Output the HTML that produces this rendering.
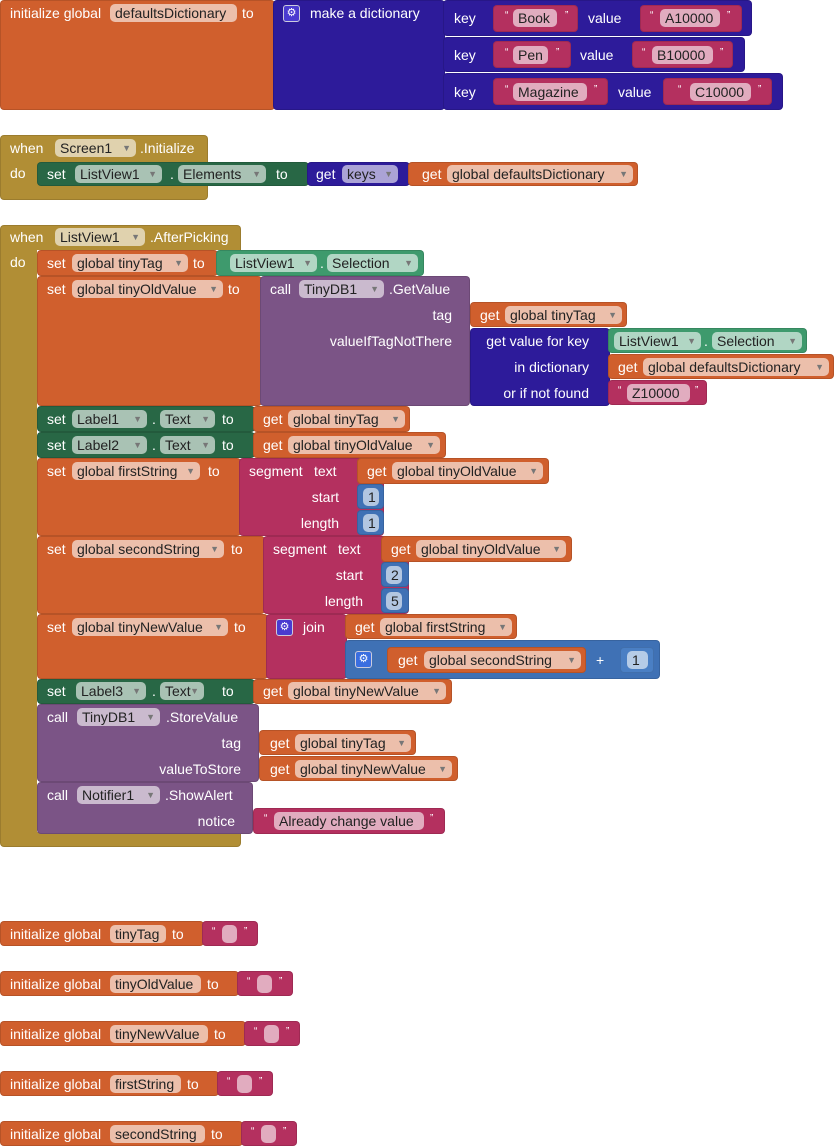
<!DOCTYPE html>
<html><head><meta charset="utf-8">
<style>
body{margin:0;width:835px;height:1147px;background:#fff;position:relative;overflow:hidden;font-family:"Liberation Sans",sans-serif}
.b{position:absolute;border-radius:4px;box-shadow:inset 0 0 0 1px rgba(0,0,0,.12)}
.o{background:#D05F2D}.g{background:#B18E35}.gr{background:#286745}.pu{background:#7B5486}.in{background:#2D1B9A}.m{background:#B4305F}.bl{background:#3F71B5}
.t{position:absolute;color:#fff;font-size:14px;line-height:18px;height:18px;white-space:nowrap}
.r{text-align:right}
.p{position:absolute;background:rgba(255,255,255,.6);color:#222;border-radius:5px;font-size:14px;line-height:18px;height:18px;padding-left:5px;box-sizing:border-box;white-space:nowrap;overflow:hidden}
.p i{font-style:normal;font-size:9px;color:#777;position:absolute;right:5px;top:0}
.gear{position:absolute;width:15px;height:15px;border:1px solid #ccd;border-radius:3px;background:#4a3bd0;color:#fff;font-size:11px;line-height:15px;text-align:center}
.q{position:absolute;color:#fff;font-size:10px;line-height:12px}
</style></head><body>

<!-- Block 1 -->
<div class="b o" style="left:0;top:0;width:275px;height:110px"></div>
<div class="t" style="left:10px;top:4px">initialize global</div>
<div class="p" style="left:110px;top:4px;width:127px">defaultsDictionary</div>
<div class="t" style="left:242px;top:4px">to</div>
<div class="b in" style="left:273px;top:0;width:172px;height:110px"></div>
<div class="gear" style="left:283px;top:5px">⚙</div>
<div class="t" style="left:310px;top:4px">make a dictionary</div>

<div class="b in" style="left:443px;top:0;width:309px;height:36px"></div>
<div class="t" style="left:454px;top:9px">key</div>
<div class="b m" style="left:493px;top:5px;width:85px;height:27px"></div>
<div class="q" style="left:505px;top:10px">“</div><div class="p" style="left:513px;top:9px;width:44px">Book</div><div class="q" style="left:565px;top:10px">”</div>
<div class="t" style="left:588px;top:9px">value</div>
<div class="b m" style="left:640px;top:5px;width:102px;height:27px"></div>
<div class="q" style="left:650px;top:10px">“</div><div class="p" style="left:660px;top:9px;width:60px">A10000</div><div class="q" style="left:727px;top:10px">”</div>

<div class="b in" style="left:443px;top:37px;width:302px;height:35px"></div>
<div class="t" style="left:454px;top:46px">key</div>
<div class="b m" style="left:493px;top:41px;width:78px;height:27px"></div>
<div class="q" style="left:505px;top:47px">“</div><div class="p" style="left:513px;top:46px;width:35px">Pen</div><div class="q" style="left:556px;top:47px">”</div>
<div class="t" style="left:580px;top:46px">value</div>
<div class="b m" style="left:632px;top:41px;width:101px;height:27px"></div>
<div class="q" style="left:642px;top:47px">“</div><div class="p" style="left:652px;top:46px;width:61px">B10000</div><div class="q" style="left:720px;top:47px">”</div>

<div class="b in" style="left:443px;top:73px;width:340px;height:37px"></div>
<div class="t" style="left:454px;top:83px">key</div>
<div class="b m" style="left:493px;top:78px;width:115px;height:27px"></div>
<div class="q" style="left:505px;top:84px">“</div><div class="p" style="left:513px;top:83px;width:74px">Magazine</div><div class="q" style="left:594px;top:84px">”</div>
<div class="t" style="left:618px;top:83px">value</div>
<div class="b m" style="left:663px;top:78px;width:109px;height:27px"></div>
<div class="q" style="left:678px;top:84px">“</div><div class="p" style="left:690px;top:83px;width:61px">C10000</div><div class="q" style="left:758px;top:84px">”</div>

<!-- Block 2 -->
<div class="b g" style="left:0;top:135px;width:208px;height:65px"></div>
<div class="t" style="left:10px;top:139px">when</div>
<div class="p" style="left:55px;top:139px;width:81px">Screen1<i>▼</i></div>
<div class="t" style="left:140px;top:139px">.Initialize</div>
<div class="t" style="left:10px;top:164px">do</div>
<div class="b gr" style="left:37px;top:162px;width:272px;height:24px"></div>
<div class="t" style="left:47px;top:165px">set</div>
<div class="p" style="left:75px;top:165px;width:87px">ListView1<i>▼</i></div>
<div class="t" style="left:170px;top:165px">.</div>
<div class="p" style="left:178px;top:165px;width:88px">Elements<i>▼</i></div>
<div class="t" style="left:276px;top:165px">to</div>
<div class="b in" style="left:307px;top:162px;width:103px;height:24px"></div>
<div class="t" style="left:316px;top:165px">get</div>
<div class="p" style="left:342px;top:165px;width:56px">keys<i>▼</i></div>
<div class="b o" style="left:408px;top:162px;width:230px;height:24px"></div>
<div class="t" style="left:422px;top:165px">get</div>
<div class="p" style="left:447px;top:165px;width:186px">global defaultsDictionary<i>▼</i></div>

<!-- Block 3 -->
<div class="b g" style="left:0;top:225px;width:241px;height:622px"></div>
<div class="t" style="left:10px;top:228px">when</div>
<div class="p" style="left:55px;top:228px;width:90px">ListView1<i>▼</i></div>
<div class="t" style="left:150px;top:228px">.AfterPicking</div>
<div class="t" style="left:10px;top:253px">do</div>
<div style="position:absolute;left:37px;top:250px;width:204px;height:582px;background:#fff"></div>

<!-- row1 -->
<div class="b o" style="left:37px;top:250px;width:181px;height:26px"></div>
<div class="t" style="left:47px;top:254px">set</div>
<div class="p" style="left:72px;top:254px;width:116px">global tinyTag<i>▼</i></div>
<div class="t" style="left:193px;top:254px">to</div>
<div class="b gr" style="left:216px;top:250px;width:208px;height:26px;background:#3E9A6D"></div>
<div class="p" style="left:230px;top:254px;width:87px">ListView1<i>▼</i></div>
<div class="t" style="left:320px;top:254px">.</div>
<div class="p" style="left:327px;top:254px;width:91px">Selection<i>▼</i></div>

<!-- row2 -->
<div class="b o" style="left:37px;top:276px;width:225px;height:130px"></div>
<div class="t" style="left:47px;top:280px">set</div>
<div class="p" style="left:72px;top:280px;width:151px">global tinyOldValue<i>▼</i></div>
<div class="t" style="left:228px;top:280px">to</div>
<div class="b pu" style="left:260px;top:276px;width:210px;height:130px"></div>
<div class="t" style="left:270px;top:280px">call</div>
<div class="p" style="left:299px;top:280px;width:85px">TinyDB1<i>▼</i></div>
<div class="t" style="left:389px;top:280px">.GetValue</div>
<div class="t r" style="left:300px;width:152px;top:306px">tag</div>
<div class="t r" style="left:300px;width:152px;top:332px">valueIfTagNotThere</div>
<div class="b o" style="left:470px;top:302px;width:157px;height:25px"></div>
<div class="t" style="left:480px;top:306px">get</div>
<div class="p" style="left:505px;top:306px;width:117px">global tinyTag<i>▼</i></div>
<div class="b in" style="left:470px;top:328px;width:140px;height:78px"></div>
<div class="t r" style="left:470px;width:119px;top:332px">get value for key</div>
<div class="t r" style="left:470px;width:119px;top:358px">in dictionary</div>
<div class="t r" style="left:470px;width:119px;top:384px">or if not found</div>
<div class="b" style="left:608px;top:328px;width:199px;height:25px;background:#3E9A6D"></div>
<div class="p" style="left:614px;top:332px;width:87px">ListView1<i>▼</i></div>
<div class="t" style="left:704px;top:332px">.</div>
<div class="p" style="left:712px;top:332px;width:90px">Selection<i>▼</i></div>
<div class="b o" style="left:608px;top:354px;width:226px;height:25px"></div>
<div class="t" style="left:618px;top:358px">get</div>
<div class="p" style="left:643px;top:358px;width:186px">global defaultsDictionary<i>▼</i></div>
<div class="b m" style="left:608px;top:380px;width:99px;height:25px"></div>
<div class="q" style="left:618px;top:385px">“</div><div class="p" style="left:627px;top:384px;width:63px">Z10000</div><div class="q" style="left:695px;top:385px">”</div>

<!-- row3 -->
<div class="b gr" style="left:37px;top:406px;width:218px;height:26px"></div>
<div class="t" style="left:47px;top:410px">set</div>
<div class="p" style="left:72px;top:410px;width:75px">Label1<i>▼</i></div>
<div class="t" style="left:152px;top:410px">.</div>
<div class="p" style="left:160px;top:410px;width:55px">Text<i>▼</i></div>
<div class="t" style="left:222px;top:410px">to</div>
<div class="b o" style="left:253px;top:406px;width:157px;height:26px"></div>
<div class="t" style="left:263px;top:410px">get</div>
<div class="p" style="left:288px;top:410px;width:117px">global tinyTag<i>▼</i></div>

<!-- row4 -->
<div class="b gr" style="left:37px;top:432px;width:218px;height:26px"></div>
<div class="t" style="left:47px;top:436px">set</div>
<div class="p" style="left:72px;top:436px;width:75px">Label2<i>▼</i></div>
<div class="t" style="left:152px;top:436px">.</div>
<div class="p" style="left:160px;top:436px;width:55px">Text<i>▼</i></div>
<div class="t" style="left:222px;top:436px">to</div>
<div class="b o" style="left:253px;top:432px;width:193px;height:26px"></div>
<div class="t" style="left:263px;top:436px">get</div>
<div class="p" style="left:288px;top:436px;width:152px">global tinyOldValue<i>▼</i></div>

<!-- row5 -->
<div class="b o" style="left:37px;top:458px;width:204px;height:78px"></div>
<div class="t" style="left:47px;top:462px">set</div>
<div class="p" style="left:72px;top:462px;width:128px">global firstString<i>▼</i></div>
<div class="t" style="left:208px;top:462px">to</div>
<div class="b m" style="left:239px;top:458px;width:145px;height:78px"></div>
<div class="t" style="left:249px;top:462px">segment</div>
<div class="t" style="left:314px;top:462px">text</div>
<div class="t r" style="left:239px;width:100px;top:488px">start</div>
<div class="t r" style="left:239px;width:100px;top:514px">length</div>
<div class="b o" style="left:357px;top:458px;width:192px;height:26px"></div>
<div class="t" style="left:367px;top:462px">get</div>
<div class="p" style="left:392px;top:462px;width:151px">global tinyOldValue<i>▼</i></div>
<div class="b bl" style="left:357px;top:484px;width:27px;height:25px"></div>
<div class="p" style="left:363px;top:488px;width:16px">1</div>
<div class="b bl" style="left:357px;top:510px;width:27px;height:25px"></div>
<div class="p" style="left:363px;top:514px;width:16px">1</div>

<!-- row6 -->
<div class="b o" style="left:37px;top:536px;width:228px;height:78px"></div>
<div class="t" style="left:47px;top:540px">set</div>
<div class="p" style="left:72px;top:540px;width:152px">global secondString<i>▼</i></div>
<div class="t" style="left:231px;top:540px">to</div>
<div class="b m" style="left:263px;top:536px;width:146px;height:78px"></div>
<div class="t" style="left:273px;top:540px">segment</div>
<div class="t" style="left:338px;top:540px">text</div>
<div class="t r" style="left:263px;width:100px;top:566px">start</div>
<div class="t r" style="left:263px;width:100px;top:592px">length</div>
<div class="b o" style="left:381px;top:536px;width:191px;height:26px"></div>
<div class="t" style="left:391px;top:540px">get</div>
<div class="p" style="left:416px;top:540px;width:150px">global tinyOldValue<i>▼</i></div>
<div class="b bl" style="left:381px;top:562px;width:28px;height:25px"></div>
<div class="p" style="left:386px;top:566px;width:16px">2</div>
<div class="b bl" style="left:381px;top:588px;width:28px;height:25px"></div>
<div class="p" style="left:386px;top:592px;width:16px">5</div>

<!-- row7 -->
<div class="b o" style="left:37px;top:614px;width:231px;height:65px"></div>
<div class="t" style="left:47px;top:618px">set</div>
<div class="p" style="left:72px;top:618px;width:156px">global tinyNewValue<i>▼</i></div>
<div class="t" style="left:234px;top:618px">to</div>
<div class="b m" style="left:266px;top:614px;width:81px;height:65px"></div>
<div class="gear" style="left:276px;top:619px">⚙</div>
<div class="t" style="left:303px;top:618px">join</div>
<div class="b o" style="left:345px;top:614px;width:172px;height:25px"></div>
<div class="t" style="left:355px;top:618px">get</div>
<div class="p" style="left:380px;top:618px;width:132px">global firstString<i>▼</i></div>
<div class="b bl" style="left:345px;top:640px;width:315px;height:39px"></div>
<div class="gear" style="left:355px;top:651px;background:#3a6ee0">⚙</div>
<div class="b o" style="left:387px;top:647px;width:199px;height:26px"></div>
<div class="t" style="left:398px;top:651px">get</div>
<div class="p" style="left:424px;top:651px;width:157px">global secondString<i>▼</i></div>
<div class="t" style="left:596px;top:651px">+</div>
<div class="b bl" style="left:620px;top:647px;width:34px;height:26px;background:#4a7fc4"></div>
<div class="p" style="left:627px;top:651px;width:21px">1</div>

<!-- row8 -->
<div class="b gr" style="left:37px;top:679px;width:218px;height:25px"></div>
<div class="t" style="left:47px;top:682px">set</div>
<div class="p" style="left:76px;top:682px;width:70px">Label3<i>▼</i></div>
<div class="t" style="left:152px;top:682px">.</div>
<div class="p" style="left:160px;top:682px;width:44px">Text<i>▼</i></div>
<div class="t" style="left:222px;top:682px">to</div>
<div class="b o" style="left:253px;top:679px;width:199px;height:25px"></div>
<div class="t" style="left:263px;top:682px">get</div>
<div class="p" style="left:288px;top:682px;width:158px">global tinyNewValue<i>▼</i></div>

<!-- row9 -->
<div class="b pu" style="left:37px;top:704px;width:222px;height:78px"></div>
<div class="t" style="left:47px;top:708px">call</div>
<div class="p" style="left:77px;top:708px;width:83px">TinyDB1<i>▼</i></div>
<div class="t" style="left:166px;top:708px">.StoreValue</div>
<div class="t r" style="left:100px;width:141px;top:734px">tag</div>
<div class="t r" style="left:100px;width:141px;top:760px">valueToStore</div>
<div class="b o" style="left:259px;top:730px;width:157px;height:25px"></div>
<div class="t" style="left:270px;top:734px">get</div>
<div class="p" style="left:295px;top:734px;width:116px">global tinyTag<i>▼</i></div>
<div class="b o" style="left:259px;top:756px;width:199px;height:25px"></div>
<div class="t" style="left:270px;top:760px">get</div>
<div class="p" style="left:295px;top:760px;width:157px">global tinyNewValue<i>▼</i></div>

<!-- row10 -->
<div class="b pu" style="left:37px;top:782px;width:216px;height:52px"></div>
<div class="t" style="left:47px;top:786px">call</div>
<div class="p" style="left:77px;top:786px;width:83px">Notifier1<i>▼</i></div>
<div class="t" style="left:165px;top:786px">.ShowAlert</div>
<div class="t r" style="left:100px;width:135px;top:812px">notice</div>
<div class="b m" style="left:253px;top:808px;width:192px;height:26px"></div>
<div class="q" style="left:264px;top:813px">“</div><div class="p" style="left:274px;top:812px;width:150px">Already change value</div><div class="q" style="left:430px;top:813px">”</div>

<!-- bottom inits -->
<div class="b o" style="left:0;top:921px;width:204px;height:25px"></div>
<div class="t" style="left:10px;top:925px">initialize global</div>
<div class="p" style="left:110px;top:925px;width:56px">tinyTag</div>
<div class="t" style="left:172px;top:925px">to</div>
<div class="b m" style="left:202px;top:921px;width:56px;height:25px"></div>
<div class="q" style="left:212px;top:926px">“</div><div class="p" style="left:222px;top:925px;width:15px"></div><div class="q" style="left:244px;top:926px">”</div>

<div class="b o" style="left:0;top:971px;width:239px;height:25px"></div>
<div class="t" style="left:10px;top:975px">initialize global</div>
<div class="p" style="left:110px;top:975px;width:91px">tinyOldValue</div>
<div class="t" style="left:207px;top:975px">to</div>
<div class="b m" style="left:237px;top:971px;width:56px;height:25px"></div>
<div class="q" style="left:247px;top:976px">“</div><div class="p" style="left:257px;top:975px;width:15px"></div><div class="q" style="left:279px;top:976px">”</div>

<div class="b o" style="left:0;top:1021px;width:246px;height:25px"></div>
<div class="t" style="left:10px;top:1025px">initialize global</div>
<div class="p" style="left:110px;top:1025px;width:98px">tinyNewValue</div>
<div class="t" style="left:214px;top:1025px">to</div>
<div class="b m" style="left:244px;top:1021px;width:56px;height:25px"></div>
<div class="q" style="left:254px;top:1026px">“</div><div class="p" style="left:264px;top:1025px;width:15px"></div><div class="q" style="left:286px;top:1026px">”</div>

<div class="b o" style="left:0;top:1071px;width:219px;height:25px"></div>
<div class="t" style="left:10px;top:1075px">initialize global</div>
<div class="p" style="left:110px;top:1075px;width:71px">firstString</div>
<div class="t" style="left:187px;top:1075px">to</div>
<div class="b m" style="left:217px;top:1071px;width:56px;height:25px"></div>
<div class="q" style="left:227px;top:1076px">“</div><div class="p" style="left:237px;top:1075px;width:15px"></div><div class="q" style="left:259px;top:1076px">”</div>

<div class="b o" style="left:0;top:1121px;width:243px;height:25px"></div>
<div class="t" style="left:10px;top:1125px">initialize global</div>
<div class="p" style="left:110px;top:1125px;width:95px">secondString</div>
<div class="t" style="left:211px;top:1125px">to</div>
<div class="b m" style="left:241px;top:1121px;width:56px;height:25px"></div>
<div class="q" style="left:251px;top:1126px">“</div><div class="p" style="left:261px;top:1125px;width:15px"></div><div class="q" style="left:283px;top:1126px">”</div>

</body></html>
